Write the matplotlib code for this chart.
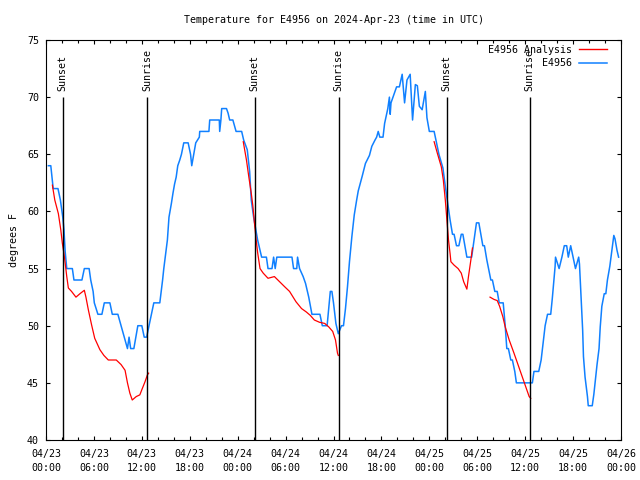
import matplotlib
matplotlib.use("Agg")
import matplotlib.pyplot as plt
from matplotlib.ticker import MultipleLocator, FixedLocator, FixedFormatter

# ---------------- data (hours since 2024-04-23 00:00 UTC) ----------------
blue_t = [0.3, 0.6, 0.9, 1.5, 1.8, 2.1, 2.25, 2.4, 2.6, 3.3, 3.5, 4.5, 4.8, 5.4, 5.6, 5.9, 6.05,
          6.5, 7.0, 7.3, 8.0, 8.3, 9.0, 9.4, 9.8, 10.2, 10.4, 10.6, 11.0, 11.25, 11.5, 12.0,
          12.3, 12.6, 12.9, 13.2, 13.5, 14.25, 14.6, 14.75, 15.0, 15.2, 15.4, 15.7, 15.9, 16.1,
          16.3, 16.5, 16.75, 16.96, 17.25, 17.8, 18.1, 18.25, 18.5, 18.75, 19.2, 19.25, 19.7,
          20.4, 20.5, 21.7, 21.75, 21.9, 22.0, 22.6, 22.8, 23.0, 23.4, 23.8, 24.5, 24.75, 25.2,
          25.5, 25.7, 26.0, 26.25, 26.5, 27.0, 27.6, 27.8, 28.3, 28.5, 28.7, 28.9, 30.8, 31.0,
          31.4, 31.5, 31.75, 32.2, 32.5, 32.9, 33.3, 34.3, 34.6, 35.2, 35.6, 35.8, 36.0, 36.3,
          36.6, 37.0, 37.25, 37.5, 37.75, 38.0, 38.3, 38.6, 38.9, 39.1, 39.6, 40.0, 40.5, 40.8,
          41.2, 41.4, 41.6, 41.8, 42.2, 42.4, 42.8, 43.0, 43.1, 43.2, 43.6, 43.9, 44.25, 44.6,
          44.9, 45.2, 45.6, 45.9, 46.25, 46.5, 46.75, 47.1, 47.5, 47.7, 48.0, 48.6, 48.9, 49.2,
          49.7, 50.0, 50.3, 50.6, 50.9, 51.1, 51.4, 51.7, 52.0, 52.2, 52.7, 53.3, 53.5, 53.9,
          54.2, 54.7, 54.9, 55.2, 55.7, 55.9, 56.2, 56.5, 56.75, 57.25, 57.5, 57.7, 57.9, 58.2,
          58.4, 58.7, 58.9, 60.9, 61.1, 61.7, 62.0, 62.2, 62.5, 62.8, 63.2, 63.4, 63.75, 63.8,
          64.25, 64.6, 64.9, 65.2, 65.4, 65.7, 66.0, 66.3, 66.7, 66.8, 67.0, 67.2, 67.3, 67.5,
          67.8, 67.9, 68.4, 68.6, 68.75, 69.0, 69.25, 69.4, 69.6, 69.9, 70.1, 70.3, 70.6, 70.8,
          71.1, 71.25, 71.5, 71.7]
blue_v = [64, 64, 62, 62, 61, 59.5, 58.4, 56.5, 55, 55, 54, 54, 55, 55, 54, 53, 52,
          51, 51, 52, 52, 51, 51, 50, 49, 48, 49, 48, 48, 49, 50, 50,
          49, 49, 50, 51, 52, 52, 54, 55, 56.4, 57.5, 59.5, 60.7, 61.6, 62.4,
          63, 64, 64.5, 65, 66, 66, 65, 64, 65, 66, 66.5, 67, 67,
          67, 68, 68, 67, 68, 69, 69, 68.6, 68, 68, 67, 67, 66.25, 65.4,
          63.5, 61, 59.5, 58.5, 57.5, 56, 56, 55, 55, 56, 55, 56, 56, 55,
          55, 56, 55, 54.3, 53.7, 52.5, 51, 51, 50, 50, 53, 53, 52, 50.2,
          49.3, 50, 50, 51.5, 53.4, 55.6, 57.8, 59.7, 61, 61.8, 63.1, 64.2, 64.9, 65.7,
          66.25, 66.5, 67, 66.5, 66.5, 67.7, 69, 70, 68.5, 69.5, 70.3, 70.9, 70.9, 72,
          69.5, 71.5, 72, 68, 71.1, 71, 69.2, 68.9, 70.5, 68.2, 67, 67, 66, 65,
          63.8, 62.2, 60.7, 59.25, 58, 58, 57, 57, 58, 58, 56, 56, 57, 59,
          59, 57, 57, 55.75, 54, 54, 53, 53, 52, 52, 50, 48, 48, 47,
          47, 46, 45, 45, 46, 46, 47, 48.2, 50, 51, 51, 52.4, 55.2, 56,
          55, 56, 57, 57, 56, 57, 56, 55, 56, 55.4, 52.5, 49.6, 47.3, 45.5,
          43.8, 43, 43, 44, 45, 46.6, 48, 49.9, 51.7, 52.8, 52.8, 54, 55.2, 56.3,
          57.9, 57.6, 56.6, 56]

red1_t = [0.8, 1.1, 1.55, 1.85, 2.05, 2.25, 2.45, 2.6, 2.8, 3.2, 3.75, 4.25, 4.8, 5.0, 5.3,
          5.7, 6.1, 6.75, 7.25, 7.8, 8.8, 9.4, 9.9, 10.2, 10.5, 10.8, 11.3, 11.75, 12.0, 12.4,
          12.7, 12.85]
red1_v = [62.3, 61.0, 59.8, 58.4, 57.2, 56.3, 55.2, 54.3, 53.3, 53.0, 52.5, 52.8, 53.1, 52.5,
          51.4, 50.1, 48.9, 47.9, 47.4, 47.0, 47.0, 46.6, 46.1, 45.0, 44.1, 43.5, 43.8, 43.95,
          44.4, 45.1, 45.7, 45.85]
red2_t = [24.7, 25.1, 25.4, 25.7, 25.9, 26.1, 26.3, 26.5, 26.8, 27.2, 27.8, 28.6, 29.25, 29.9,
          30.5, 31.3, 32.0, 32.6, 33.1, 33.6, 34.25, 34.9, 35.4, 35.9, 36.25, 36.5, 36.6]
red2_v = [66.1, 64.5, 63.0, 61.6, 60.5, 59.0, 57.6, 56.4, 55.0, 54.6, 54.15, 54.3, 53.85, 53.4,
          53.0, 52.1, 51.5, 51.2, 50.9, 50.5, 50.3, 50.2, 49.9, 49.5, 48.75, 47.6, 47.4]
red3_t = [48.6, 49.0, 49.5, 49.75, 50.0, 50.2, 50.4, 50.6, 50.7, 51.1, 51.6, 52.0, 52.3, 52.7,
          52.9, 53.2, 53.4]
red3_v = [66.1, 65.1, 63.9, 62.75, 61.0, 59.25, 57.5, 56.3, 55.6, 55.3, 55.0, 54.6, 53.85, 53.2,
          54.3, 55.75, 56.8]
red4_t = [55.6, 56.1, 56.5, 56.8, 57.2, 57.5, 58.0, 58.6, 59.25, 59.9, 60.5, 60.7]
red4_v = [52.5, 52.3, 52.2, 51.7, 50.8, 49.9, 48.75, 47.6, 46.3, 45.0, 43.8, 43.65]

sunset_t = [2.1, 26.15, 50.15]
sunrise_t = [12.65, 36.65, 60.55]

xtick_pos = [0, 6, 12, 18, 24, 30, 36, 42, 48, 54, 60, 66, 72]
xtick_labels = ["04/23\n00:00", "04/23\n06:00", "04/23\n12:00", "04/23\n18:00",
                "04/24\n00:00", "04/24\n06:00", "04/24\n12:00", "04/24\n18:00",
                "04/25\n00:00", "04/25\n06:00", "04/25\n12:00", "04/25\n18:00",
                "04/26\n00:00"]

title = "Temperature for E4956 on 2024-Apr-23 (time in UTC)"
ylabel = "degrees F"

# ---------------- figure ----------------
FONT = "DejaVu Sans Mono"
FS = 7.2
plt.rcParams["font.family"] = [FONT]
plt.rcParams["font.size"] = FS

fig = plt.figure(figsize=(6.4, 4.8), dpi=100)
ax = fig.add_axes([46 / 640, 40 / 480, 575 / 640, 400 / 480])

RED = "#ff0000"
BLUE = "#1080ff"

for t, v in [(red1_t, red1_v), (red2_t, red2_v), (red3_t, red3_v), (red4_t, red4_v)]:
    ax.plot(t, v, color=RED, lw=0.9, zorder=3)
ax.plot([], [], color=RED, lw=1.0, label="E4956 Analysis")
ax.plot(blue_t, blue_v, color=BLUE, lw=1.1, zorder=2, label="E4956")

for t in sunset_t:
    ax.vlines(t, 40, 70, color="black", lw=1.0, zorder=4)
    ax.text(t, 70.5, "Sunset", rotation=90, ha="center", va="bottom", fontsize=FS)
for t in sunrise_t:
    ax.vlines(t, 40, 70, color="black", lw=1.0, zorder=4)
    ax.text(t, 70.5, "Sunrise", rotation=90, ha="center", va="bottom", fontsize=FS)

ax.set_xlim(0, 72)
ax.set_ylim(40, 75)
ax.xaxis.set_major_locator(FixedLocator(xtick_pos))
ax.xaxis.set_major_formatter(FixedFormatter(xtick_labels))
ax.xaxis.set_minor_locator(MultipleLocator(2))
ax.yaxis.set_major_locator(MultipleLocator(5))
ax.tick_params(axis="both", which="both", direction="in", top=True, right=True,
               colors="black", width=0.8)
ax.tick_params(axis="x", which="major", length=3.2, pad=6.5, labelsize=FS)
ax.tick_params(axis="x", which="minor", length=2.0)
ax.tick_params(axis="y", which="major", length=2.8, pad=5, labelsize=FS)
for lab in ax.get_xticklabels():
    lab.set_linespacing(1.45)
for s in ax.spines.values():
    s.set_linewidth(0.8)

ax.set_title(title, fontsize=FS, pad=12)
ax.set_ylabel(ylabel, fontsize=FS, labelpad=6)

leg = ax.legend(loc="upper right", bbox_to_anchor=(0.9765, 0.9875), frameon=False,
                markerfirst=False, handlelength=2.8, handletextpad=0.7,
                labelspacing=0.35, borderpad=0, borderaxespad=0, fontsize=FS)

fig.savefig("out.png", dpi=100)
